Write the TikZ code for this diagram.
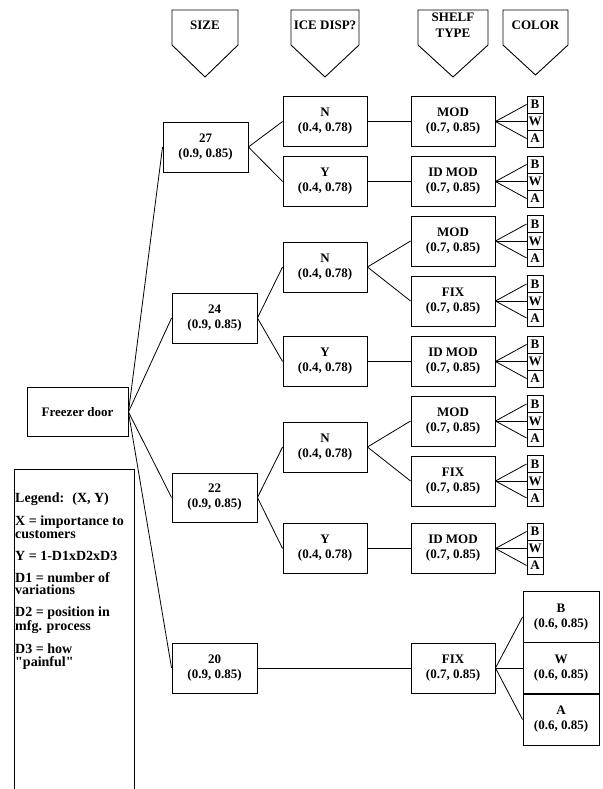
\documentclass[tikz,border=0pt]{standalone}
\usepackage{fontspec}
\setmainfont{Liberation Serif}
\begin{document}
\begin{tikzpicture}[x=1pt,y=-1pt,
  txt/.style={font=\bfseries\fontsize{13}{15}\selectfont},
  box/.style={txt,draw,line width=0.9pt,align=center,inner sep=0pt,minimum width=84pt,minimum height=50pt},
  sizebox/.style={box,minimum width=85pt},
  clr/.style={txt,draw,line width=0.9pt,inner sep=0pt,minimum width=16pt,minimum height=17pt},
  bigclr/.style={box,minimum width=76pt,minimum height=51pt},
  link/.style={line width=0.8pt},
  hdr/.style={line width=0.9pt},
  hdrtxt/.style={font=\bfseries\fontsize{13}{16}\selectfont,align=center,inner sep=0pt}]
\useasboundingbox (0,0) rectangle (602,789);

% headers
\foreach \nm/\cx/\hw/\tip/\txt in {hsize/205/33/77/SIZE, hice/325/34/77/ICE DISP?, hshelf/453/35/77/{SHELF\\TYPE}, hcolor/535.5/32.5/75/COLOR}{
  \draw[hdr] (\cx-\hw,10) -- (\cx+\hw,10) -- (\cx+\hw,45) -- (\cx,\tip) -- (\cx-\hw,45) -- cycle;
  \node[hdrtxt] (\nm) at (\cx,25.5) {\txt};
}

% root
\node[box,minimum width=101pt,minimum height=49pt] (fd) at (77.5,412) {Freezer door};

% sizes
\node[sizebox] (s27) at (205.5,147) {27\\(0.9, 0.85)};
\node[sizebox] (s24) at (214.5,318) {24\\(0.9, 0.85)};
\node[sizebox,minimum height=49pt] (s22) at (214.5,497.5) {22\\(0.9, 0.85)};
\node[sizebox] (s20) at (214.5,668) {20\\(0.9, 0.85)};

% ice dispenser
\node[box] (i27n) at (325,121.5) {N\\(0.4, 0.78)};
\node[box] (i27y) at (325,181.5) {Y\\(0.4, 0.78)};
\node[box] (i24n) at (325,267) {N\\(0.4, 0.78)};
\node[box] (i24y) at (325,361.5) {Y\\(0.4, 0.78)};
\node[box] (i22n) at (325,447) {N\\(0.4, 0.78)};
\node[box] (i22y) at (325,548.5) {Y\\(0.4, 0.78)};

% shelf type
\node[box] (h27m) at (453,121.5) {MOD\\(0.7, 0.85)};
\node[box] (h27i) at (453,181.5) {ID MOD\\(0.7, 0.85)};
\node[box] (h24m) at (453,241) {MOD\\(0.7, 0.85)};
\node[box] (h24f) at (453,301) {FIX\\(0.7, 0.85)};
\node[box] (h24i) at (453,361.5) {ID MOD\\(0.7, 0.85)};
\node[box] (h22m) at (453,421) {MOD\\(0.7, 0.85)};
\node[box] (h22f) at (453,481) {FIX\\(0.7, 0.85)};
\node[box] (h22i) at (453,548.5) {ID MOD\\(0.7, 0.85)};
\node[box] (h20f) at (453,668) {FIX\\(0.7, 0.85)};

% small colour boxes
\foreach \h/\cy in {h27m/121.5, h27i/181.5, h24m/241, h24f/301, h24i/361.5, h22m/421, h22f/481, h22i/548.5}{
  \node[clr] (\h b) at (535,\cy-17) {B};
  \node[clr] (\h w) at (535,\cy) {W};
  \node[clr] (\h a) at (535,\cy+17) {A};
  \draw[link] (\h.east) -- (\h b.west);
  \draw[link] (\h.east) -- (\h w.west);
  \draw[link] (\h.east) -- (\h a.west);
}

% big colour boxes for size 20
\node[bigclr] (c20b) at (561,617) {B\\(0.6, 0.85)};
\node[bigclr] (c20w) at (561,668) {W\\(0.6, 0.85)};
\node[bigclr] (c20a) at (561,719.5) {A\\(0.6, 0.85)};

% connectors
\foreach \s in {s27,s24,s22,s20} \draw[link] (fd.east) -- (\s.west);
\draw[link] (s27.east) -- (i27n.west);
\draw[link] (s27.east) -- (i27y.west);
\draw[link] (s24.east) -- (i24n.west);
\draw[link] (s24.east) -- (i24y.west);
\draw[link] (s22.east) -- (i22n.west);
\draw[link] (s22.east) -- (i22y.west);
\draw[link] (i27n.east) -- (h27m.west);
\draw[link] (i27y.east) -- (h27i.west);
\draw[link] (i24n.east) -- (h24m.west);
\draw[link] (i24n.east) -- (h24f.west);
\draw[link] (i24y.east) -- (h24i.west);
\draw[link] (i22n.east) -- (h22m.west);
\draw[link] (i22n.east) -- (h22f.west);
\draw[link] (i22y.east) -- (h22i.west);
\draw[link] (s20.east) -- (h20f.west);
\draw[link] (h20f.east) -- (c20b.west);
\draw[link] (h20f.east) -- (c20w.west);
\draw[link] (h20f.east) -- (c20a.west);

% legend
\draw[line width=0.9pt] (14,790) -- (14,469) -- (134,469) -- (134,790);
\node[anchor=north west,inner sep=0pt,align=left,font=\bfseries\fontsize{14}{12.5}\selectfont] (legend) at (15,492.5)
{Legend: \ (X, Y)\\[9.5pt]
X = importance to\\customers\\[9.5pt]
Y = 1-D1xD2xD3\\[9.5pt]
D1 = number of\\variations\\[9.5pt]
D2 = position in\\mfg. process\\[9.5pt]
D3 = how\\\textquotedbl painful\textquotedbl};
\end{tikzpicture}
\end{document}
